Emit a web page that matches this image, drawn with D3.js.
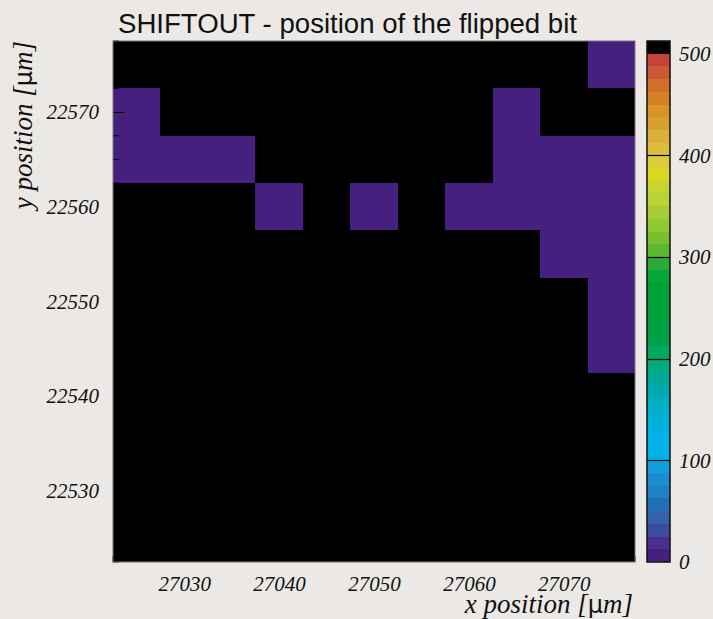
<!DOCTYPE html>
<html>
<head>
<meta charset="utf-8">
<script src="https://cdnjs.cloudflare.com/ajax/libs/d3/7.8.5/d3.min.js"></script>
<style>
  body { margin: 0; background: #ebe8e6; }
  svg { display: block; }
</style>
</head>
<body>
<svg id="chart" width="713" height="619"></svg>
<script>
// bin centres (um), 5 um bins
var xCenters = [27025, 27030, 27035, 27040, 27045, 27050, 27055, 27060, 27065, 27070, 27075];
var yCenters = [22575, 22570, 22565, 22560, 22555, 22550, 22545, 22540, 22535, 22530, 22525];

// counts per row, top row first (512 = saturated / black, 1 = lowest band)
var counts = [
  [512, 512, 512, 512, 512, 512, 512, 512, 512, 512, 1],
  [1, 512, 512, 512, 512, 512, 512, 512, 1, 512, 512],
  [1, 1, 1, 512, 512, 512, 512, 512, 1, 1, 1],
  [512, 512, 512, 1, 512, 1, 512, 1, 1, 1, 1],
  [512, 512, 512, 512, 512, 512, 512, 512, 512, 1, 1],
  [512, 512, 512, 512, 512, 512, 512, 512, 512, 512, 1],
  [512, 512, 512, 512, 512, 512, 512, 512, 512, 512, 1],
  [512, 512, 512, 512, 512, 512, 512, 512, 512, 512, 512],
  [512, 512, 512, 512, 512, 512, 512, 512, 512, 512, 512],
  [512, 512, 512, 512, 512, 512, 512, 512, 512, 512, 512],
  [512, 512, 512, 512, 512, 512, 512, 512, 512, 512, 512]
];

var xTicks = [27030, 27040, 27050, 27060, 27070];
var yTicks = [22530, 22540, 22550, 22560, 22570];
var zTicks = [0, 100, 200, 300, 400, 500];

// palette bands, lowest first
var palette = [
  "#46207e", "#48308c", "#3c4c9e", "#3462aa", "#2070b8", "#2080c4", "#1e8cd0", "#10a0dc",
  "#00b0e6", "#00b0e6", "#00b0e0", "#00b0d0", "#00b0c0", "#00aaaa", "#00a898", "#00aa7a",
  "#00a860", "#00a04a", "#00a040", "#00a03a", "#00a03a", "#00a038", "#00a838", "#2aaa3a",
  "#5ab82e", "#78c030", "#90c832", "#a8cc38", "#b8d238", "#c8d430", "#d8d820", "#dccc3c",
  "#dcbc38", "#dab03a", "#d8a030", "#d89426", "#d48228", "#d06e2c", "#cc5a36", "#c8423a",
  "#000000"
];

var binW = 5, zStep = 12.5;
var svg = d3.select("#chart");
var pLeft = 113, pRight = 635, pTop = 41, pBottom = 562;

var x = d3.scaleLinear().domain([27022.5, 27077.5]).range([pLeft, pRight]);
var y = d3.scaleLinear().domain([22522.5, 22577.5]).range([pBottom, pTop]);
var zMax = zStep * palette.length;
var z = d3.scaleLinear().domain([0, zMax]).range([pBottom, pTop]);
var color = d3.scaleQuantize().domain([0, zMax]).range(palette);

// cells
var cells = [];
counts.forEach(function(row, r) {
  row.forEach(function(v, c) {
    cells.push({ x: xCenters[c], y: yCenters[r], v: v });
  });
});

svg.append("g").selectAll("rect")
  .data(cells)
  .enter().append("rect")
  .attr("x", function(d) { return x(d.x - binW / 2); })
  .attr("y", function(d) { return y(d.y + binW / 2); })
  .attr("width", function(d) { return x(d.x + binW / 2) - x(d.x - binW / 2); })
  .attr("height", function(d) { return y(d.y - binW / 2) - y(d.y + binW / 2); })
  .attr("fill", function(d) { return color(d.v); })
  .attr("shape-rendering", "crispEdges");

// minor ticks (inside)
var yMinor = d3.range(22522.5, 22577.6, 2.5).filter(function(v) { return yTicks.indexOf(v) < 0; });
svg.append("g").selectAll("line")
  .data(yMinor)
  .enter().append("line")
  .attr("x1", pLeft).attr("x2", pLeft + 6)
  .attr("y1", function(d) { return y(d); })
  .attr("y2", function(d) { return y(d); })
  .attr("stroke", "#000");

var xMinor = d3.range(27022.5, 27077.6, 2.5).filter(function(v) { return xTicks.indexOf(v) < 0; });
svg.append("g").selectAll("line")
  .data(xMinor)
  .enter().append("line")
  .attr("x1", function(d) { return x(d); })
  .attr("x2", function(d) { return x(d); })
  .attr("y1", pBottom).attr("y2", pBottom - 6)
  .attr("stroke", "#000");

// axes
var fontSerif = "'Liberation Serif', 'DejaVu Serif', serif";
var xAxis = svg.append("g")
  .attr("transform", "translate(0," + pBottom + ")")
  .call(d3.axisBottom(x).tickValues(xTicks).tickFormat(d3.format("d"))
    .tickSizeInner(-11).tickSizeOuter(0).tickPadding(14));
var yAxis = svg.append("g")
  .attr("transform", "translate(" + pLeft + ",0)")
  .call(d3.axisLeft(y).tickValues(yTicks).tickFormat(d3.format("d"))
    .tickSizeInner(-11).tickSizeOuter(0).tickPadding(14));

[xAxis, yAxis].forEach(function(a) {
  a.select(".domain").remove();
  a.selectAll(".tick line").attr("stroke", "#000");
  a.selectAll(".tick text")
    .attr("fill", "#111")
    .style("font-family", fontSerif)
    .style("font-style", "italic")
    .style("font-size", "21px");
});

// frame
svg.append("rect")
  .attr("x", pLeft).attr("y", pTop)
  .attr("width", pRight - pLeft).attr("height", pBottom - pTop)
  .attr("fill", "none")
  .attr("stroke", "#777")
  .attr("stroke-width", 1);

// colour bar
var barX = 647, barW = 23;
svg.append("g").selectAll("rect")
  .data(palette)
  .enter().append("rect")
  .attr("x", barX)
  .attr("y", function(d, i) { return z(zStep * (i + 1)); })
  .attr("width", barW)
  .attr("height", function(d, i) { return z(zStep * i) - z(zStep * (i + 1)); })
  .attr("fill", function(d) { return d; })
  .attr("shape-rendering", "crispEdges");

svg.append("g").selectAll("line")
  .data(zTicks.slice(1, -1))
  .enter().append("line")
  .attr("x1", barX).attr("x2", barX + barW)
  .attr("y1", function(d) { return Math.round(z(d)) + 0.5; })
  .attr("y2", function(d) { return Math.round(z(d)) + 0.5; })
  .attr("stroke", "#000")
  .attr("stroke-width", 1.2);

svg.append("rect")
  .attr("x", barX).attr("y", pTop)
  .attr("width", barW).attr("height", pBottom - pTop)
  .attr("fill", "none")
  .attr("stroke", "#111")
  .attr("stroke-width", 1.5);

svg.append("g").selectAll("text")
  .data(zTicks)
  .enter().append("text")
  .attr("x", 679)
  .attr("y", function(d) { return z(d); })
  .attr("dy", "0.35em")
  .attr("fill", "#111")
  .style("font-family", fontSerif)
  .style("font-style", "italic")
  .style("font-size", "21px")
  .text(function(d) { return d; });

// title
svg.append("text")
  .attr("x", 118)
  .attr("y", 33)
  .attr("fill", "#111")
  .style("font-family", "'Liberation Sans', Arial, sans-serif")
  .style("font-size", "27px")
  .attr("textLength", 459)
  .attr("lengthAdjust", "spacingAndGlyphs")
  .text("SHIFTOUT - position of the flipped bit");

// axis titles
function axisTitle(sel, label) {
  sel.attr("fill", "#111")
    .attr("text-anchor", "end")
    .style("font-family", fontSerif)
    .style("font-style", "italic")
    .style("font-size", "27px");
  sel.append("tspan").text(label + " [");
  sel.append("tspan")
    .style("font-style", "normal")
    .style("font-family", "'DejaVu Sans', sans-serif")
    .style("font-size", "24px")
    .text("\u03bc");
  sel.append("tspan").text("m]");
}

axisTitle(svg.append("text").attr("x", 633).attr("y", 613), "x position");
axisTitle(svg.append("text").attr("transform", "translate(32,41) rotate(-90)"), "y position");
</script>
</body>
</html>
